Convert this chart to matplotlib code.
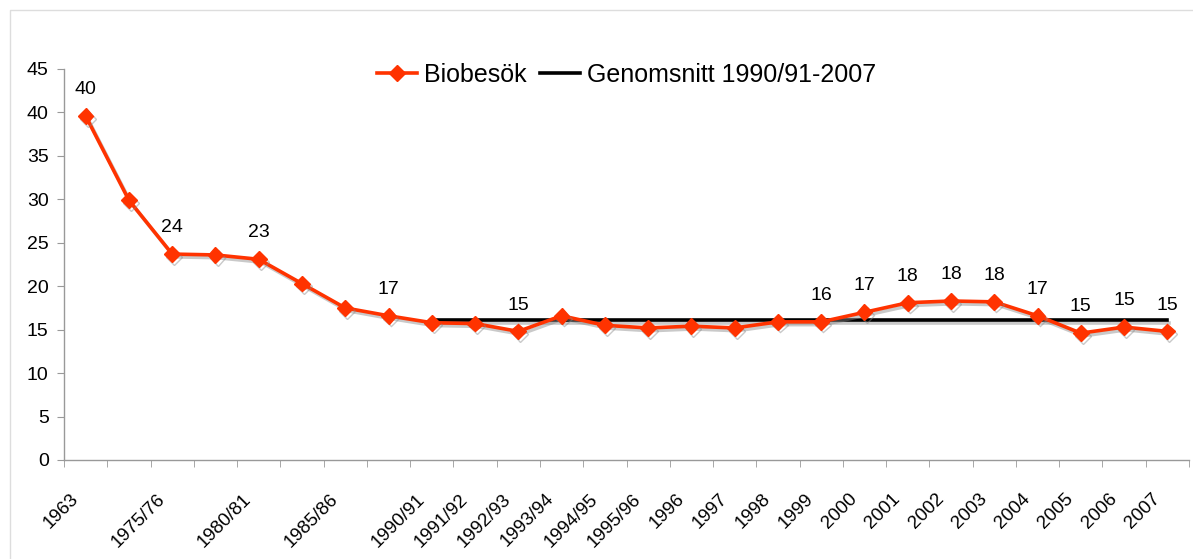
import numpy as np
import matplotlib
matplotlib.use('Agg')
import matplotlib.pyplot as plt
import matplotlib.patheffects as pe
from matplotlib.lines import Line2D
from matplotlib.transforms import ScaledTranslation

# Category labels (some categories carry no label)
categories = ['1963', '', '1975/76', '', '1980/81', '', '1985/86', '',
              '1990/91', '1991/92', '1992/93', '1993/94', '1994/95', '1995/96',
              '1996', '1997', '1998', '1999', '2000', '2001', '2002', '2003',
              '2004', '2005', '2006', '2007']

# Biobesök
visits = [39.6, 29.9, 23.7, 23.6, 23.1, 20.3, 17.5, 16.6,
          15.8, 15.7, 14.8, 16.6, 15.5, 15.2, 15.4, 15.2,
          15.9, 15.9, 17.0, 18.1, 18.3, 18.2, 16.6, 14.6, 15.3, 14.8]

# Average line 1990/91-2007
average = [np.nan] * 8 + [16.1] * 18

# Data labels shown on the chart (index, text)
label_idx = [0, 2, 4, 7, 10, 17, 18, 19, 20, 21, 22, 23, 24, 25]
label_txt = ['40', '24', '23', '17', '15', '16', '17', '18', '18', '18', '17', '15', '15', '15']

plt.rcParams['font.family'] = ['Liberation Sans', 'DejaVu Sans']

red = '#FF3300'
shadow = [pe.SimpleLineShadow(offset=(1.5, -2), shadow_color='#888888', alpha=0.45), pe.Normal()]

fig = plt.figure(figsize=(11.93, 5.59), dpi=100)
ax = fig.add_axes([64/1193, 99/559, 1125/1193, 391/559])

x = np.arange(len(categories))
ax.plot(x, average, color='black', lw=2.6, path_effects=shadow, zorder=2)
ax.plot(x, visits, color=red, lw=2.6, marker='D', markersize=8,
        path_effects=shadow, zorder=3)

for i, t in zip(label_idx, label_txt):
    ax.annotate(t, (x[i], visits[i]), xytext=(0, 19), textcoords='offset points',
                ha='center', va='center', fontsize=14)

ax.set_xlim(-0.5, len(categories) - 0.5)
ax.set_ylim(0, 45)
ax.set_yticks(np.arange(0, 46, 5))

# tick marks at category boundaries, labels at centres
ax.set_xticks(x)
ax.set_xticklabels(categories, rotation=45, ha='right', va='top',
                   rotation_mode='anchor', fontsize=13.5)
ax.set_xticks(np.arange(len(categories) + 1) - 0.5, minor=True)
ax.tick_params(axis='x', which='major', length=0, pad=22)
ax.tick_params(axis='x', which='minor', length=5, color='#999999', direction='out')
ax.tick_params(axis='y', length=5, color='#999999', direction='out', labelsize=14, pad=6)
off = ScaledTranslation(-16/100, 0, fig.dpi_scale_trans)
for lab in ax.get_xticklabels():
    lab.set_transform(lab.get_transform() + off)

for s in ['top', 'right']:
    ax.spines[s].set_visible(False)
for s in ['left', 'bottom']:
    ax.spines[s].set_color('#999999')
    ax.spines[s].set_linewidth(1.0)

handles = [Line2D([], [], color=red, lw=2.6, marker='D', markersize=8),
           Line2D([], [], color='black', lw=2.6)]
ax.legend(handles, ['Biobesök', 'Genomsnitt 1990/91-2007'], loc='center',
          bbox_to_anchor=(0.5, 0.985), ncol=2, frameon=False, fontsize=18,
          handlelength=1.6, handletextpad=0.3, columnspacing=0.5)

# thin frame lines of the original image
fig.add_artist(Line2D([10/1193, 10/1193, 1.0], [0.0, 1 - 10/559, 1 - 10/559],
                      transform=fig.transFigure, color='#dddddd', lw=1))

fig.savefig('out.png', dpi=100, facecolor='white')
